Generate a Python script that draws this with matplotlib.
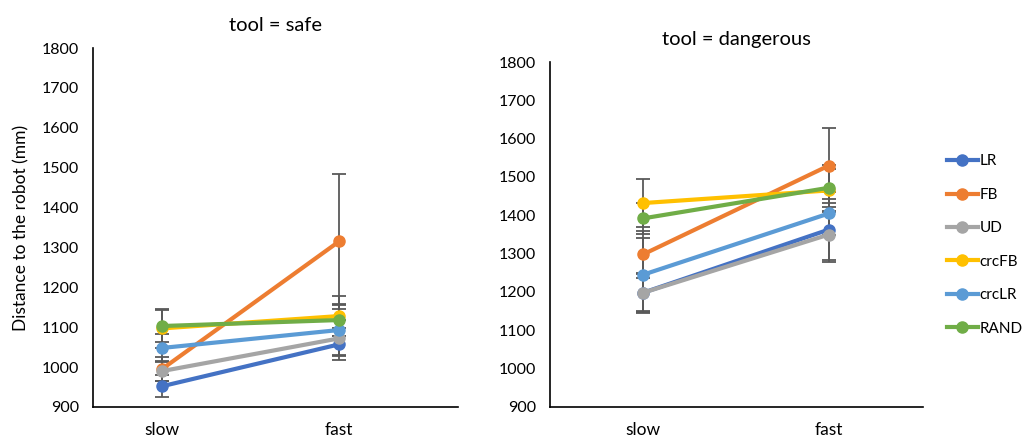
import numpy as np
from matplotlib import pyplot as plt

plt.rcParams['font.family'] = ['Lato', 'DejaVu Sans']

# Mean distance (mm) and error per condition, for slow and fast robot speed
categories = ["slow", "fast"]
series = ["LR", "FB", "UD", "crcFB", "crcLR", "RAND"]
colors = ["#4472C4", "#ED7D31", "#A5A5A5", "#FFC000", "#5B9BD5", "#70AD47"]

safe_means = {
    "LR": [952, 1057],
    "FB": [995, 1315],
    "UD": [990, 1072],
    "crcFB": [1097, 1128],
    "crcLR": [1048, 1093],
    "RAND": [1103, 1118],
}
safe_errors = {
    "LR": [28, 40],
    "FB": [30, 170],
    "UD": [25, 45],
    "crcFB": [48, 50],
    "crcLR": [35, 62],
    "RAND": [40, 40],
}
dangerous_means = {
    "LR": [1198, 1363],
    "FB": [1298, 1530],
    "UD": [1198, 1350],
    "crcFB": [1432, 1465],
    "crcLR": [1245, 1405],
    "RAND": [1392, 1472],
}
dangerous_errors = {
    "LR": [50, 80],
    "FB": [62, 98],
    "UD": [52, 72],
    "crcFB": [63, 55],
    "crcLR": [95, 55],
    "RAND": [40, 60],
}

fig = plt.figure(figsize=(10.33, 4.41), dpi=100)
W, H = 1033, 441


def make_axes(left, top, right, bottom):
    return fig.add_axes([left / W, 1 - bottom / H, (right - left) / W, (bottom - top) / H])


def draw_panel(ax, means, errors, title, x0_px, x1_px, left_px, right_px):
    x = np.arange(len(categories))
    for name, col in zip(series, colors):
        ax.errorbar(x, means[name], yerr=errors[name], color=col, lw=3,
                    marker='o', ms=8, ecolor='#595959', elinewidth=1.3,
                    capsize=5, capthick=1.3, label=name)
    # category positions in pixel terms -> xlim
    scale = x1_px - x0_px
    ax.set_xlim((left_px - x0_px) / scale, (right_px - x0_px) / scale)
    ax.set_ylim(900, 1800)
    ax.set_yticks(np.arange(900, 1801, 100))
    ax.set_xticks(x)
    ax.set_xticklabels(categories)
    ax.tick_params(axis='y', length=0, labelsize=11.5, colors='#000000', pad=10)
    ax.tick_params(axis='x', length=0, labelsize=12.5, colors='#000000', pad=11)
    for s in ['top', 'right']:
        ax.spines[s].set_visible(False)
    for s in ['left', 'bottom']:
        ax.spines[s].set_color('#000000')
        ax.spines[s].set_linewidth(1.2)
    ax.set_title(title, fontsize=14.5, pad=12)


ax1 = make_axes(93, 48, 458, 407)
draw_panel(ax1, safe_means, safe_errors, "tool = safe", 162, 339, 93, 458)
ax1.set_ylabel("Distance to the robot (mm)", fontsize=12.5, labelpad=9)

ax2 = make_axes(550, 62, 923, 407)
draw_panel(ax2, dangerous_means, dangerous_errors, "tool = dangerous", 643, 829, 550, 923)

handles, labels = ax2.get_legend_handles_labels()
handles = [h[0] for h in handles]
fig.legend(handles, labels, loc='center left', bbox_to_anchor=(947 / W, 1 - 245 / H),
           frameon=False, fontsize=11, labelspacing=1.27, handlelength=2.0,
           handletextpad=0.15, borderaxespad=0, borderpad=0)

fig.savefig("out.png", dpi=100)
